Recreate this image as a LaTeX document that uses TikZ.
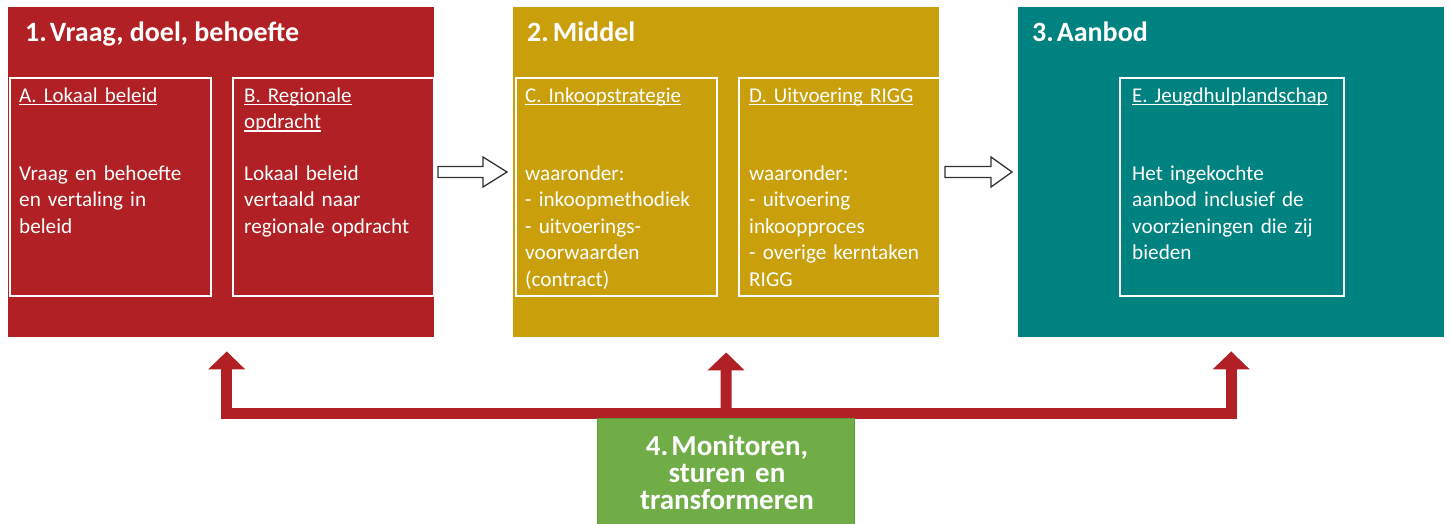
\documentclass[tikz,border=0pt]{standalone}
\usepackage{fontspec}
\setmainfont{Carlito}
\usetikzlibrary{arrows.meta}
\definecolor{cred}{HTML}{B12024}
\definecolor{cyel}{HTML}{C9A00C}
\definecolor{cteal}{HTML}{008380}
\definecolor{cgreen}{HTML}{70AD47}
\definecolor{cgreenb}{HTML}{5E963A}
\definecolor{carrow}{HTML}{333333}
\lineskiplimit=-100pt
\newcommand\myul[1]{\leavevmode\setbox0\hbox{#1}\rlap{\rule[-3pt]{\wd0}{1.3pt}}\box0}
\tikzset{
  panel/.style={rectangle, anchor=north west, inner sep=0pt, minimum height=330pt, minimum width=426pt},
  subbox/.style={rectangle, anchor=north west, inner sep=0pt, draw=white, line width=2pt, minimum height=218pt},
  ptitle/.style={anchor=base west, inner sep=0pt, text=white, font=\bfseries\fontsize{28}{30}\selectfont},
  stitle/.style={anchor=base west, inner sep=0pt, text=white, align=left, text width=190pt, font=\fontsize{21}{26.5}\selectfont},
  body/.style={anchor=base west, inner sep=0pt, text=white, align=left, text width=#1, font=\fontsize{21.2}{26.5}\selectfont},
  hollow/.style={draw=carrow, fill=white, line width=1.3pt, line join=miter},
  fb/.style={draw=cred, line width=11pt, line join=miter},
  tip/.style={-{Triangle[width=36pt,length=18pt]}},
}
\begin{document}
\begin{tikzpicture}[x=1pt,y=-1pt]
\useasboundingbox (0,0) rectangle (1451,523);
\fill[white] (0,0) rectangle (1451,523);
% panels
\node[panel, fill=cred]  (box1) at (8,7) {};
\node[panel, fill=cyel]  (box2) at (513,7) {};
\node[panel, fill=cteal] (box3) at (1018,7) {};
% sub boxes
\node[subbox, minimum width=201pt] (boxA) at (9,77) {};
\node[subbox, minimum width=201pt] (boxB) at (232,77) {};
\node[subbox, minimum width=201pt] (boxC) at (515,77) {};
\node[subbox, minimum width=201pt] (boxD) at (738,77) {};
\node[subbox, minimum width=224pt] (boxE) at (1119,77) {};
% titles
\node[ptitle] (t1) at (25,41) {1.\kern3pt Vraag, doel, behoefte};
\node[ptitle] (t2) at (527,41) {2.\kern4pt Middel};
\node[ptitle] (t3) at (1032,41) {3.\kern3pt Aanbod};
% sub titles
\node[stitle] (tA) at (19,102) {\myul{A. Lokaal beleid}};
\node[stitle] (tB) at (244,102) {\myul{B. Regionale}\\\myul{opdracht}};
\node[stitle] (tC) at (525,102) {\myul{C. Inkoopstrategie}};
\node[stitle] (tD) at (749,102) {\myul{D. Uitvoering RIGG}};
\node[stitle] (tE) at (1132,102) {\myul{E. Jeugdhulplandschap}};
% bodies
\node[body=185pt] (bA) at (19,180) {Vraag en behoefte\\en vertaling in\\beleid};
\node[body=185pt] (bB) at (244,180) {Lokaal beleid\\vertaald naar\\regionale opdracht};
\node[body=185pt] (bC) at (525,180) {waaronder:\\- inkoopmethodiek\\- uitvoerings-\\voorwaarden\\(contract)};
\node[body=185pt] (bD) at (749,180) {waaronder:\\- uitvoering\\inkoopproces\\- overige kerntaken\\RIGG};
\node[body=205pt] (bE) at (1132,180) {Het ingekochte\\aanbod inclusief de\\voorzieningen die zij\\bieden};
% hollow arrows
\draw[hollow] (438,166.5) -- (483,166.5) -- (483,157) -- (507,172) -- (483,187) -- (483,177.5) -- (438,177.5) -- cycle;
\draw[hollow] (945,166.5) -- (991,166.5) -- (991,157) -- (1012,172) -- (991,187) -- (991,177.5) -- (945,177.5) -- cycle;
% feedback connector
\coordinate (hub) at (726,413);
\draw[fb, {Triangle[width=36pt,length=18pt]}-{Triangle[width=36pt,length=18pt]}, shorten <=14pt, shorten >=14pt]
  ([xshift=5.5pt]box1.south) |- (hub) -| (box3.south);
\draw[fb, tip, shorten >=15pt] (hub) -- (box2.south);
% monitor box
\node[rectangle, anchor=north west, inner sep=0pt, fill=cgreen, draw=cgreenb, line width=0.8pt,
      minimum width=257pt, minimum height=110pt] (box4) at (597,417.5) {};
\node[anchor=base, inner sep=0pt, text=white, align=center, text width=250pt,
      font=\bfseries\fontsize{29}{27}\selectfont] (t4) at (727,455) {4.\kern3pt Monitoren,\\sturen en\\transformeren};
\end{tikzpicture}
\end{document}
